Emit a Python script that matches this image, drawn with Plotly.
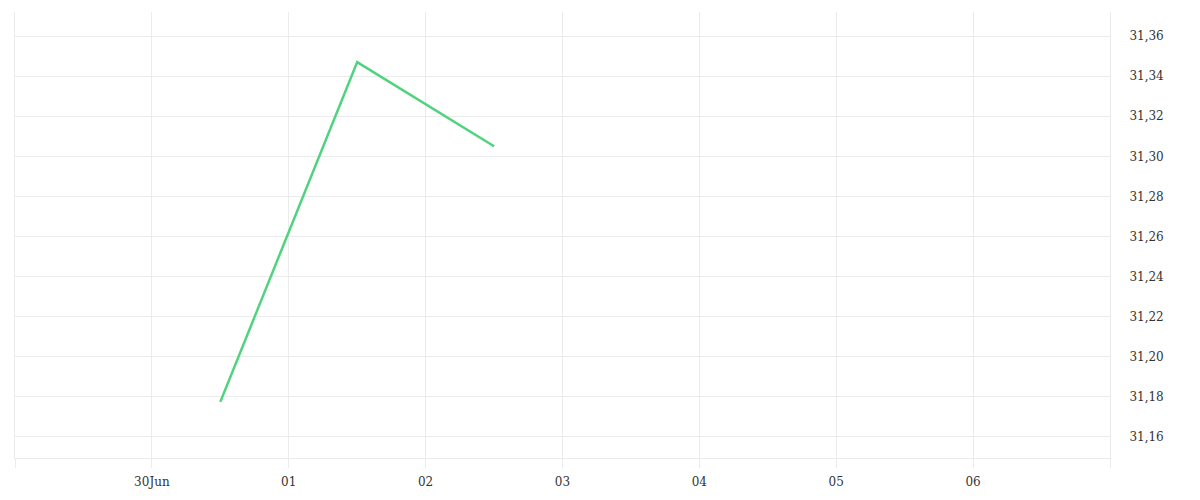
import plotly.graph_objects as go

dates = ["2023-06-30 12:00", "2023-07-01 12:00", "2023-07-02 12:00"]
values = [31.1775, 31.347, 31.305]

tick_dates = ["2023-06-29", "2023-06-30", "2023-07-01", "2023-07-02", "2023-07-03",
              "2023-07-04", "2023-07-05", "2023-07-06", "2023-07-07"]
tick_labels = ["", "30Jun", "01", "02", "03", "04", "05", "06", ""]
y_ticks = [31.16, 31.18, 31.20, 31.22, 31.24, 31.26, 31.28, 31.30, 31.32, 31.34, 31.36]

grid = "#ebebeb"
fig = go.Figure(go.Scatter(x=dates, y=values, mode="lines",
                           line=dict(color="#4fd37e", width=2.5), hoverinfo="skip"))
fig.update_layout(
    width=1200, height=500,
    margin=dict(l=7, r=98, t=4, b=50),
    paper_bgcolor="white", plot_bgcolor="white",
    separators=",.",
    showlegend=False,
    font=dict(family="DejaVu Serif", size=12, color="#333333"),
    xaxis=dict(range=["2023-06-29", "2023-07-07"], tickvals=tick_dates, ticktext=tick_labels,
               showgrid=True, gridcolor=grid, gridwidth=1,
               ticks="outside", ticklen=9, tickcolor=grid,
               showline=True, linecolor=grid, linewidth=1,
               ticklabelstandoff=4,
               zeroline=False, tickfont=dict(size=12, color="#333")),
    yaxis=dict(range=[31.1495, 31.372], side="right", tickvals=y_ticks, tickformat=".2f",
               showgrid=True, gridcolor=grid, gridwidth=1, zeroline=False,
               showline=True, mirror=True, linecolor=grid, linewidth=1,
               ticks="", ticklabelstandoff=16, tickfont=dict(size=12, color="#333")),
)
fig.write_html("out.html")
